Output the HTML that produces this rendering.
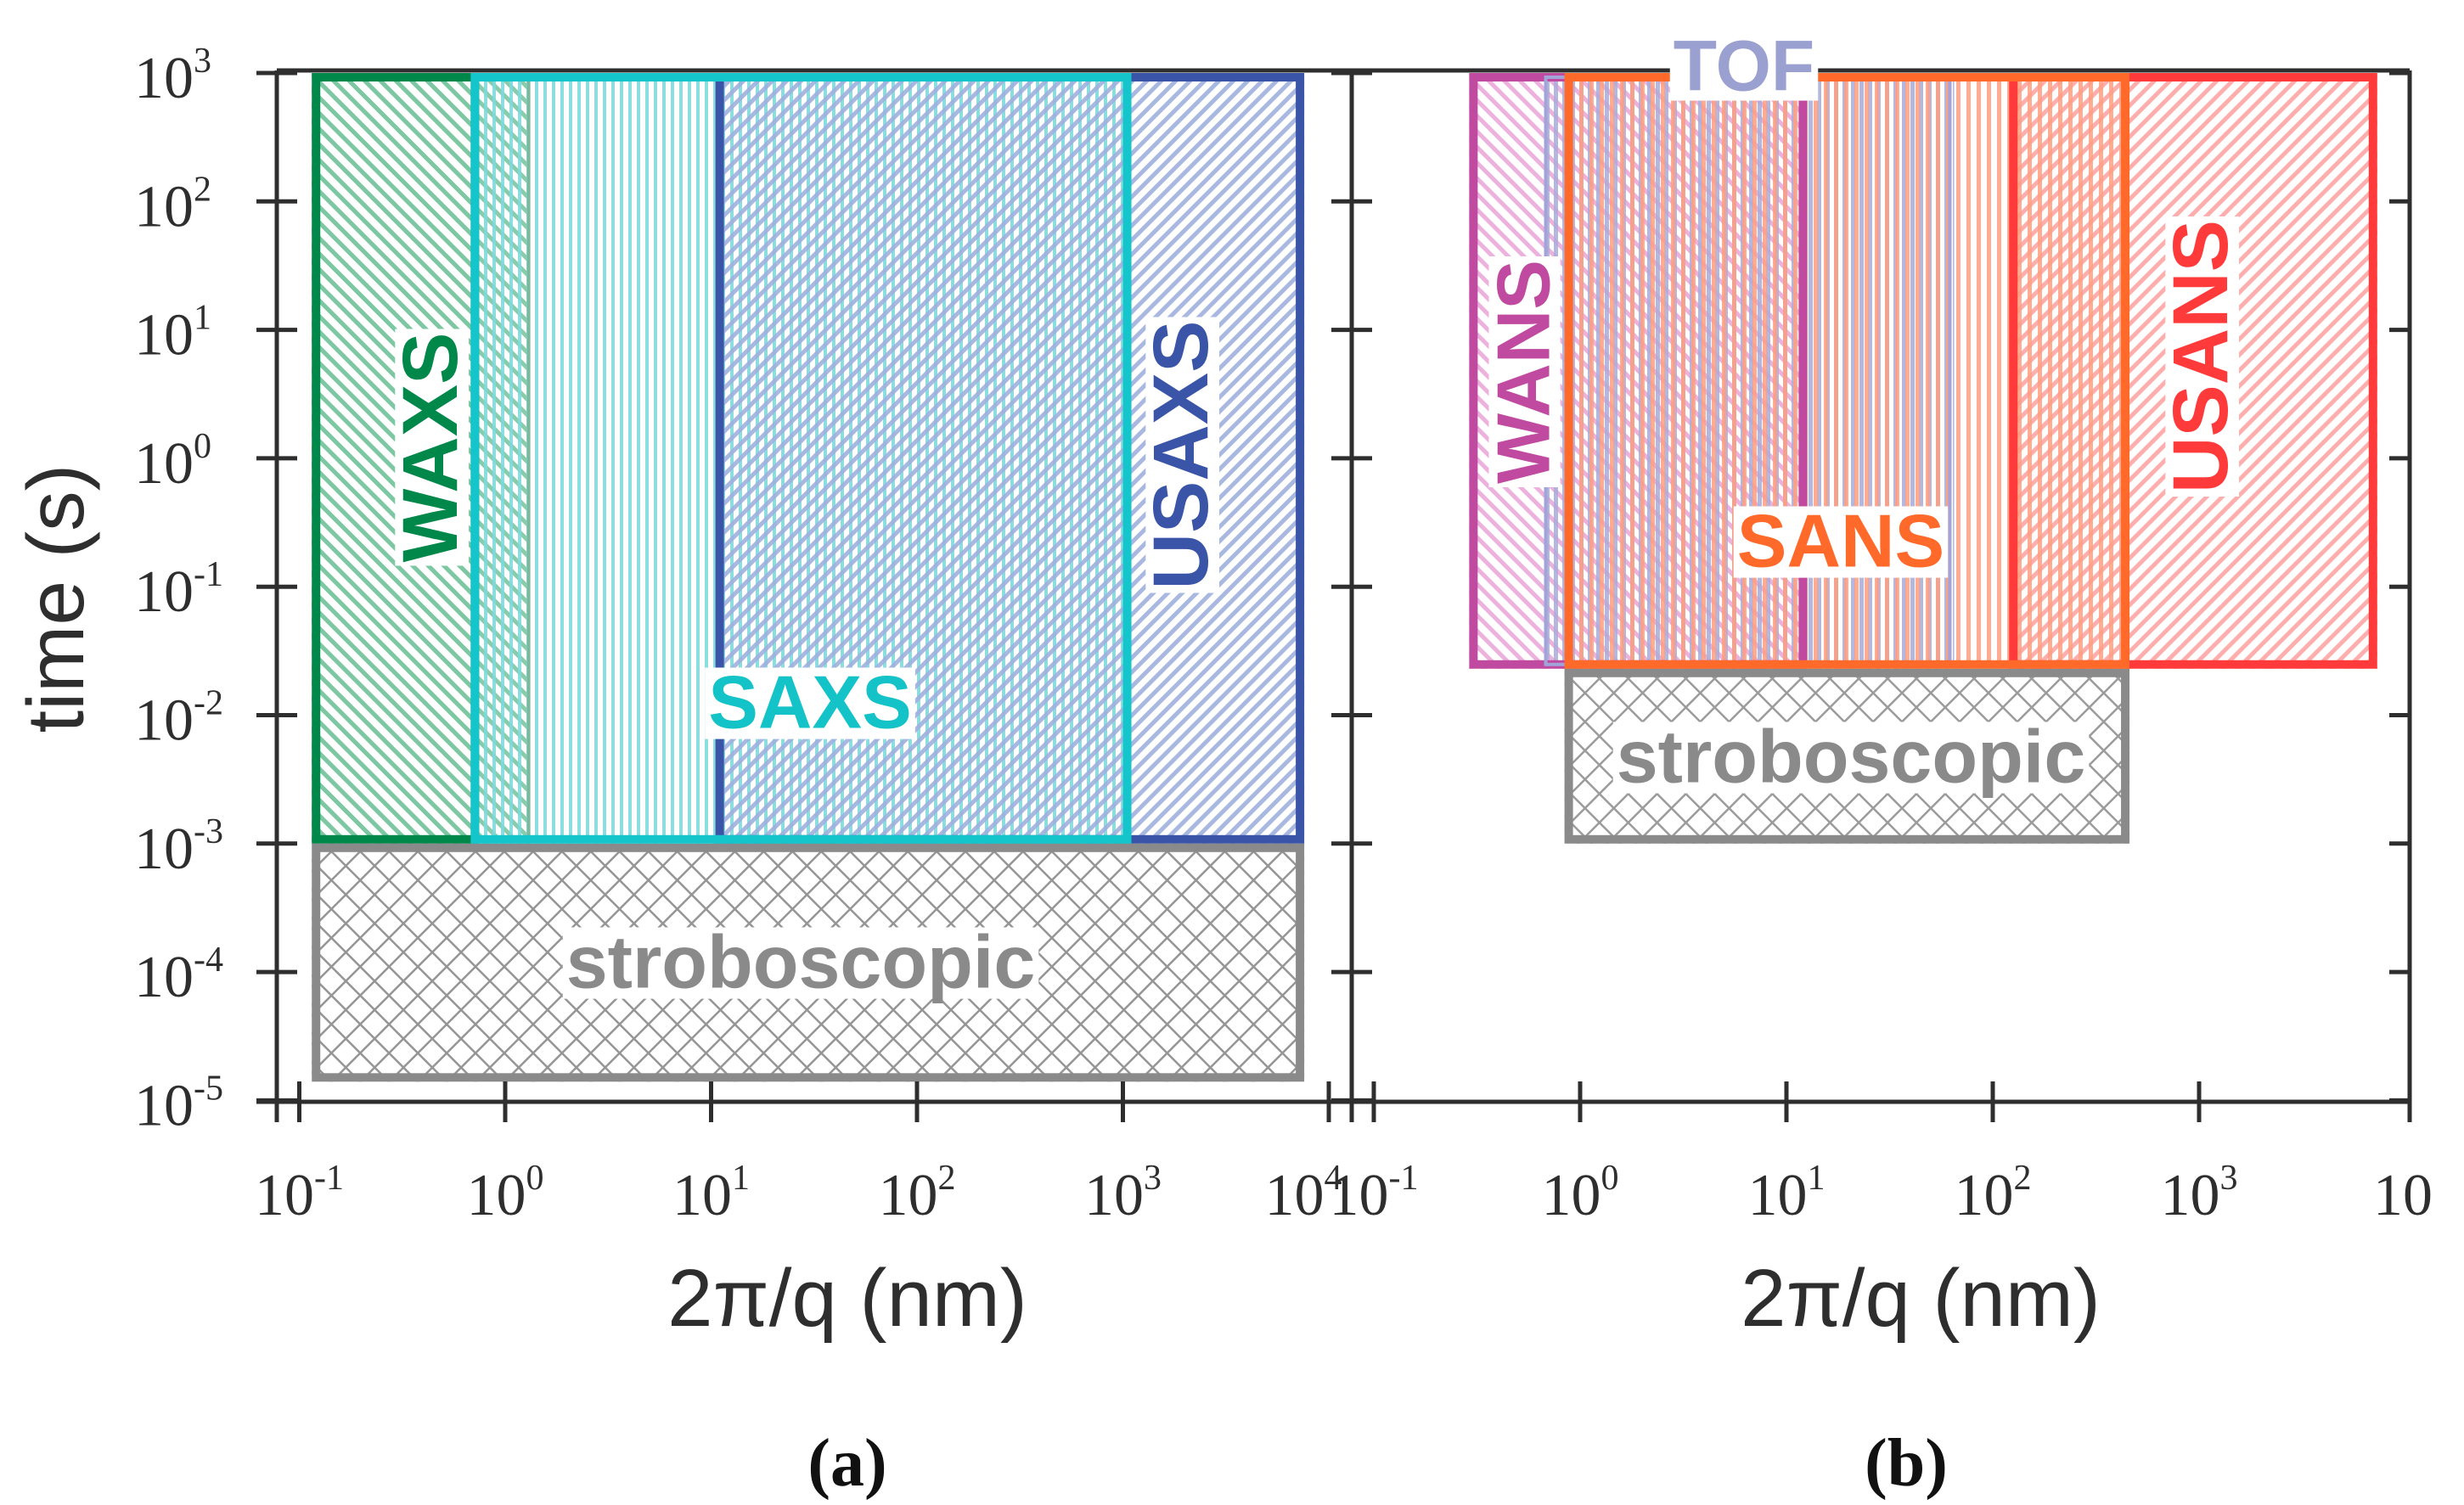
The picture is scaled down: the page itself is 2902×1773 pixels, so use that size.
<!DOCTYPE html>
<html><head><meta charset="utf-8"><style>
html,body{margin:0;padding:0;background:#fff;}
svg{display:block;}
</style></head><body>
<svg id="fig" width="2902" height="1773" viewBox="0 0 2902 1773" xmlns="http://www.w3.org/2000/svg">
<defs></defs>
<g id="plots"></g>
</svg>
<script>
// ---------- data ----------
const decadesLeft = [-1,0,1,2,3,4];
const decadesRight = [-1,0,1,2,3];
const yDecades = [3,2,1,0,-1,-2,-3,-4,-5];
const leftNames = ["WAXS","SAXS","USAXS","stroboscopic"];
const leftQmin = [0.115, 0.68, 10.5, 0.115];
const leftQmax = [0.68, 1100, 7600, 7600];
const leftTmin = [1e-3, 1e-3, 1e-3, 1.4e-5];
const leftTmax = [1e3, 1e3, 1e3, 1e-3];
const waxsHatchMax = 1.3;
const rightNames = ["WANS","TOF","USANS","SANS","stroboscopic"];
const rightQmin = [0.29, 0.65, 120, 0.84, 0.84];
const rightQmax = [12.6, 65, 7300, 460, 460];
const rightTmin = [0.023, 0.023, 0.023, 0.023, 1e-3];
const rightTmax = [1e3, 1e3, 1e3, 1e3, 0.023];

// ---------- axes functions ----------
const Y0 = 86, DY = 151.3;
function yS(v){ return Y0 + (3 - Math.log10(v))*DY; }
function xL(v){ return 352.5 + (Math.log10(v)+1)*242.5; }
function xR(v){ return 1618 + (Math.log10(v)+1)*243; }

const NS = "http://www.w3.org/2000/svg";
const svg = document.getElementById('fig');
const defs = svg.querySelector('defs');
const root = document.getElementById('plots');
function el(tag, attrs, parent){ const e=document.createElementNS(NS,tag); for(const k in attrs) e.setAttribute(k,attrs[k]); (parent||root).appendChild(e); return e; }

function pattern(id, color, angle, spacing, width){
  const p = el('pattern',{id:id,patternUnits:'userSpaceOnUse',width:spacing,height:spacing,patternTransform:'rotate('+angle+')'},defs);
  el('rect',{x:0,y:0,width:width,height:spacing,fill:color},p);
}
pattern('pWAXS','#7cc6a2',-45,13,5);
pattern('pSAXS','#7ed9dc',0,10,4);
pattern('pUSAXS','#9fb0de',45,12,5);
pattern('pWANS','#e9a3d6',-45,13,5);
pattern('pTOF','#a8acd8',0,10,5);
pattern('pSANS','#ff9e80',0,12,5);
pattern('pUSANS','#ffa0a0',45,13,5);
(function(){
  const p = el('pattern',{id:'pStrobe',patternUnits:'userSpaceOnUse',width:24,height:24,patternTransform:'rotate(45)'},defs);
  el('rect',{x:0,y:0,width:2.5,height:24,fill:'#8a8a8a'},p);
  el('rect',{x:0,y:0,width:24,height:2.5,fill:'#8a8a8a'},p);
})();

const leftFill = ['pWAXS','pSAXS','pUSAXS','pStrobe'];
const leftColor = ['#00874a','#14c6cc','#3a55a8','#8a8a8a'];
const rightFill = ['pWANS','pTOF','pUSANS','pSANS','pStrobe'];
const rightColor = ['#c04aa0','#a0a4d8','#ff3a3a','#ff6a2a','#8a8a8a'];
const rightBorderW = [10,4,10,10,10];

// fills
const ext = el('rect',{x:xL(leftQmin[0]),y:yS(leftTmax[0]),width:xL(waxsHatchMax)-xL(leftQmin[0]),height:yS(leftTmin[0])-yS(leftTmax[0]),fill:'url(#pWAXS)','fill-opacity':0.9});


leftNames.forEach((n,i)=>{
  const r = el('rect',{x:xL(leftQmin[i]),y:yS(leftTmax[i]),width:xL(leftQmax[i])-xL(leftQmin[i]),height:yS(leftTmin[i])-yS(leftTmax[i]),fill:'url(#'+leftFill[i]+')','fill-opacity':0.9});
  
  
});
rightNames.forEach((n,i)=>{
  const r = el('rect',{x:xR(rightQmin[i]),y:yS(rightTmax[i]),width:xR(rightQmax[i])-xR(rightQmin[i]),height:yS(rightTmin[i])-yS(rightTmax[i]),fill:'url(#'+rightFill[i]+')','fill-opacity':0.85});
  
  
});
const wl = el('line',{x1:xL(waxsHatchMax),y1:yS(leftTmax[0]),x2:xL(waxsHatchMax),y2:yS(leftTmin[0]),stroke:'#7cb89a','stroke-width':4});


[0,2,3,1].forEach(i=>{
  const extra = (i===0) ? 10 : 0;
  const r = el('rect',{x:xL(leftQmin[i])+5,y:yS(leftTmax[i])+5,width:xL(leftQmax[i])-xL(leftQmin[i])-10+extra,height:yS(leftTmin[i])-yS(leftTmax[i])-10,fill:'none',stroke:leftColor[i],'stroke-width':10});
  
  
});
[0,1,2,4,3].forEach(i=>{
  const r = el('rect',{x:xR(rightQmin[i])+5,y:yS(rightTmax[i])+5,width:xR(rightQmax[i])-xR(rightQmin[i])-10,height:yS(rightTmin[i])-yS(rightTmax[i])-10,fill:'none',stroke:rightColor[i],'stroke-width':rightBorderW[i]});
  
  
});

// ---------- axes ----------
const AX = '#2e2e2e';
function line(x1,y1,x2,y2,w,name){ const l=el('line',{x1:x1,y1:y1,x2:x2,y2:y2,stroke:AX,'stroke-width':w||5});
  
   return l; }
const XB = 1298, XT = 83;
line(326,XT,2838,XT,5,'top-frame');
line(302,XB,1592,XB,5,'left-x-axis');
line(1592,XB,2838,XB,5,'right-x-axis');
line(326,XT,326,XB+24,5,'left-y-axis');
line(1592,XT,1592,XB+24,5,'middle-axis');
line(2838,XT,2838,XB+24,5,'right-frame');
yDecades.forEach(d=>{
  const y = yS(Math.pow(10,d));
  line(302,y,350,y,5,'left-y-tick');
  line(1568,y,1616,y,5,'middle-y-tick');
  line(2814,y,2838,y,5,'right-y-tick');
  const t = el('text',{x:158,y:y+29,'font-family':'Liberation Serif, serif','font-size':70,fill:AX});
  
  
  t.appendChild(document.createTextNode('10'));
  const s = el('tspan',{dy:-30,'font-size':42},t); s.textContent = String(d);
});
function xLabel(x, d, name){
  const t = el('text',{x:x,y:1431,'font-family':'Liberation Serif, serif','font-size':70,fill:AX,'text-anchor':'middle'});
  
  
  t.appendChild(document.createTextNode('10'));
  if(d!==null){ const s = el('tspan',{dy:-30,'font-size':42},t); s.textContent=String(d); }
}
decadesLeft.forEach(d=>{
  const x = xL(Math.pow(10,d));
  line(x,XB-24,x,XB+24,5,'left-x-tick');
  xLabel(d===4? x-30 : x, d, 'left-x-tick-label');
});
decadesRight.forEach(d=>{
  const x = xR(Math.pow(10,d));
  line(x,XB-24,x,XB+24,5,'right-x-tick');
  xLabel(x, d, 'right-x-tick-label');
});
xLabel(2830, null, 'right-x-tick-label-cut');

// ---------- titles ----------
function txt(x,y,s,size,fill,opts,name){
  const t = el('text',Object.assign({x:x,y:y,'font-family':'Liberation Sans, sans-serif','font-size':size,fill:fill,'text-anchor':'middle'},opts||{}));
  t.textContent = s;
  
  
  return t;
}
txt(998,1562,'2π/q (nm)',96,AX,{},'left-x-axis-title');
txt(2262,1562,'2π/q (nm)',96,AX,{},'right-x-axis-title');
txt(98,705,'time (s)',95,AX,{transform:'rotate(-90 98 705)'},'y-axis-title');
txt(998,1750,'(a)',80,'#111',{'font-family':'Liberation Serif, serif','font-weight':'bold'},'panel-a-label');
txt(2245,1750,'(b)',80,'#111',{'font-family':'Liberation Serif, serif','font-weight':'bold'},'panel-b-label');

function regionLabel(cx,cy,s,size,fill,rot,name){
  const g = el('g',{transform:'translate('+cx+' '+cy+') rotate('+rot+')'});
  
  
  const bg = el('rect',{fill:'#fff'},g);
  const t = el('text',{x:0,y:size*0.36,'font-family':'Liberation Sans, sans-serif','font-size':size,'font-weight':'bold',fill:fill,'text-anchor':'middle'},g);
  t.textContent = s;
  const b = t.getBBox();
  bg.setAttribute('x',b.x-4); bg.setAttribute('y',b.y+size*0.1); bg.setAttribute('width',b.width+8); bg.setAttribute('height',b.height*0.85);
}
regionLabel(505,527,'WAXS',92,'#00874a',-90,'waxs-label');
regionLabel(954,826,'SAXS',88,'#14c3c8',0,'saxs-label');
regionLabel(1389,536,'USAXS',92,'#3a55a8',-90,'usaxs-label');
regionLabel(943,1132,'stroboscopic',88,'#8a8a8a',0,'left-stroboscopic-label');
regionLabel(1793,438,'WANS',88,'#c04aa0',-90,'wans-label');
regionLabel(2054,76,'TOF',84,'#9aa0d0',0,'tof-label');
regionLabel(2168,636,'SANS',88,'#ff6a2a',0,'sans-label');
regionLabel(2590,420,'USANS',92,'#ff3a3a',-90,'usans-label');
regionLabel(2180,890,'stroboscopic',88,'#8a8a8a',0,'right-stroboscopic-label');
</script>
</body></html>
